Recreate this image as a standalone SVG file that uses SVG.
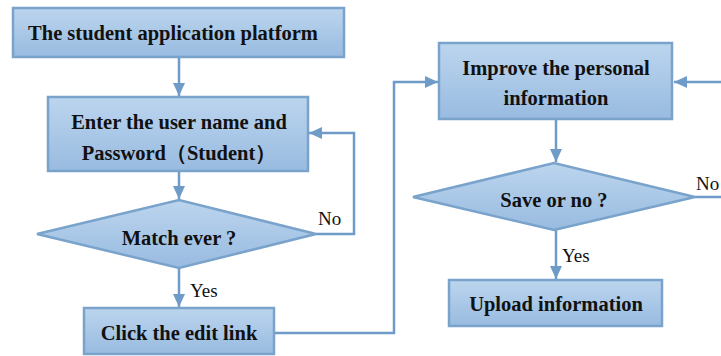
<svg xmlns="http://www.w3.org/2000/svg" width="721" height="356" viewBox="0 0 721 356">
<defs>
<linearGradient id="g" x1="0" y1="0" x2="0" y2="1">
<stop offset="0" stop-color="#bcd5ee"/>
<stop offset="1" stop-color="#98bbe0"/>
</linearGradient>
<marker id="ah" markerWidth="14" markerHeight="12" refX="13" refY="6" orient="auto" markerUnits="userSpaceOnUse">
<path d="M0,0 L13,6 L0,12 Z" fill="#6f9bc8"/>
</marker>
<style>
.box{fill:url(#g);stroke:#7aa3cc;stroke-width:2.5}
.t{font-family:'Liberation Serif','Times New Roman',serif;font-weight:bold;font-size:20.5px;fill:#111;text-anchor:middle}
.l{font-family:'Liberation Serif','Times New Roman',serif;font-size:19px;fill:#111}
.c{fill:none;stroke:#6f9bc8;stroke-width:2.5}
</style>
</defs>
<rect width="721" height="356" fill="#fff"/>
<g id="connectors">
<path class="c" d="M179,57 V96" marker-end="url(#ah)"/>
<path class="c" d="M179,171 V199" marker-end="url(#ah)"/>
<path class="c" d="M316,234 H354 V133 H309" marker-end="url(#ah)"/>
<path class="c" d="M179,268 V307" marker-end="url(#ah)"/>
<path class="c" d="M274,333 H394 V82 H438" marker-end="url(#ah)"/>
<path class="c" d="M721,82 H674" marker-end="url(#ah)"/>
<path class="c" d="M556,119 V162" marker-end="url(#ah)"/>
<path class="c" d="M695,197 H721"/>
<path class="c" d="M556,230 V279" marker-end="url(#ah)"/>
</g>
<g id="n1"><rect class="box" x="13" y="8" width="331" height="49"/><text class="t" x="173" y="40">The student application platform</text></g>
<g id="n2"><rect class="box" x="48" y="97" width="260" height="74"/><text class="t" x="179" y="129">Enter the user name and</text><text class="t" x="179" y="160">Password（Student）</text></g>
<g id="n3"><polygon class="box" points="37,234 179,200 316,234 179,268"/><text class="t" x="179" y="245">Match ever ?</text></g>
<g id="n4"><rect class="box" x="84" y="308" width="190" height="46"/><text class="t" x="179" y="340">Click the edit link</text></g>
<g id="n5"><rect class="box" x="439" y="43" width="233" height="76"/><text class="t" x="556" y="75">Improve the personal</text><text class="t" x="556" y="105">information</text></g>
<g id="n6"><polygon class="box" points="413,197 554,163 695,197 554,230"/><text class="t" x="554" y="207">Save or no ?</text></g>
<g id="n7"><rect class="box" x="449" y="280" width="213" height="46"/><text class="t" x="556" y="311">Upload information</text></g>
<g id="labels">
<text class="l" x="318" y="225">No</text>
<text class="l" x="190" y="297">Yes</text>
<text class="l" x="696" y="190">No</text>
<text class="l" x="562" y="262">Yes</text>
</g>
</svg>
